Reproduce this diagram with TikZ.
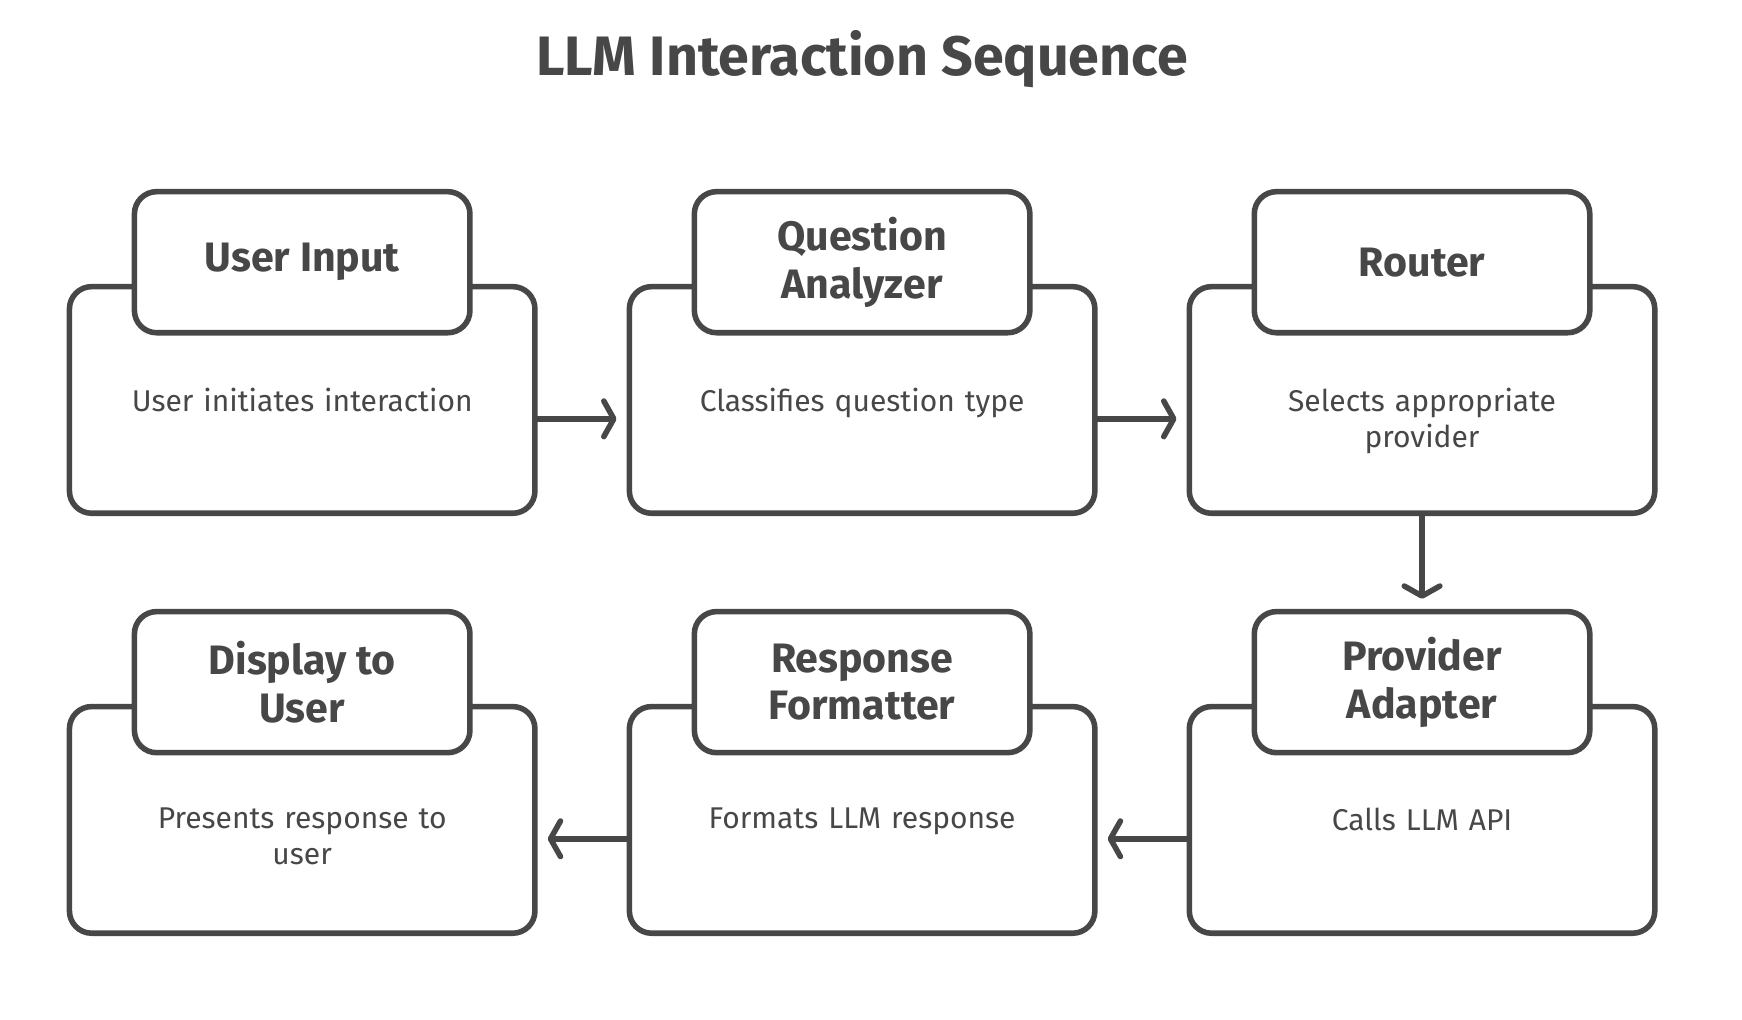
\documentclass[tikz,border=0pt]{standalone}
\usepackage{fontspec}
\setmainfont{Fira Sans}
\usetikzlibrary{arrows.meta,positioning}
\definecolor{ink}{HTML}{474747}

\begin{document}
\begin{tikzpicture}[x=1pt,y=-1pt,
		body/.style={draw=ink,line width=5pt,rounded corners=20pt,fill=white,minimum width=419pt,minimum height=204pt},
		head/.style={draw=ink,line width=5pt,rounded corners=20pt,fill=white,minimum width=302pt,minimum height=127pt,
				text=ink,font=\bfseries\fontsize{37}{43}\selectfont,align=center},
		info/.style={text=ink,font=\fontsize{27}{32}\selectfont,align=center,anchor=north,text width=360pt},
		flow/.style={draw=ink,line width=5pt,line cap=round,-{Straight Barb[length=9pt,width=32pt,round]},shorten >=9pt}]
	\useasboundingbox (0,0) rectangle (1568,918.1);

	\node[text=ink,font=\bfseries\fontsize{50}{56}\selectfont] (title) at (776,53) {LLM Interaction Sequence};

	% steps: name/column/row/header/text
	\foreach \n/\x/\y/\h/\t in {
			1/272/0/User Input/User initiates interaction,
			2/776/0/{Question\\Analyzer}/Classifies question type,
			3/1280/0/Router/{Selects appropriate\\provider},
			4/1280/378/{Provider\\Adapter}/Calls LLM API,
			5/776/378/{Response\\Formatter}/Formats LLM response,
			6/272/378/{Display to\\User}/{Presents response to\\user}} {
			\node[body] (body\n) at (\x,360+\y) {};
			\node[head] (head\n) at (\x,236+\y) {\h};
			\node[info] (info\n) at (\x,346+\y) {\t};
		}

	\draw[flow] ([yshift=-17pt]body1.east) -- ([yshift=-17pt]body2.west);
	\draw[flow] ([yshift=-17pt]body2.east) -- ([yshift=-17pt]body3.west);
	\draw[flow] (body3.south) -- (head4.north);
	\draw[flow] ([yshift=-17pt]body4.west) -- ([yshift=-17pt]body5.east);
	\draw[flow] ([yshift=-17pt]body5.west) -- ([yshift=-17pt]body6.east);
\end{tikzpicture}
\end{document}
